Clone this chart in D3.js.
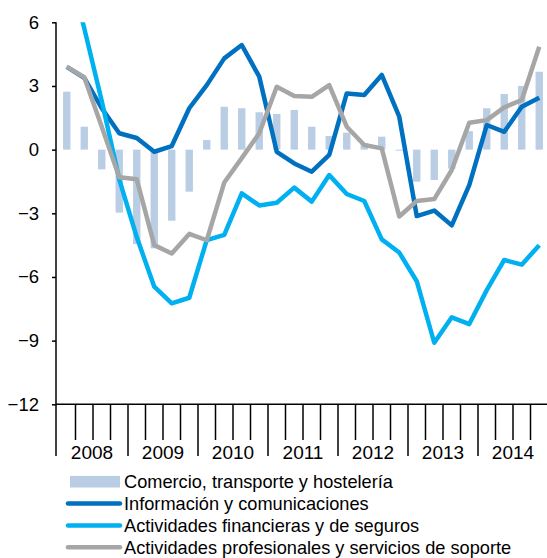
<!DOCTYPE html>
<html>
<head>
<meta charset="utf-8">
<script src="https://cdn.jsdelivr.net/npm/d3@7/dist/d3.min.js"></script>
<style>
  body { margin: 0; background: #fff; }
  svg { display: block; font-family: "Liberation Sans", Arial, sans-serif; }
</style>
</head>
<body>
<svg id="chart" width="547" height="558"></svg>
<script>
// data, quarterly 2008T1 .. 2014T4
const years = ["2008", "2009", "2010", "2011", "2012", "2013", "2014"];
const quarters = years.flatMap(y => ["T1", "T2", "T3", "T4"].map(q => y + q));
const yTicks = [-12, -9, -6, -3, 0, 3, 6];

const comercio = [2.73, 1.08, -0.93, -2.97, -4.45, -4.65, -3.35, -1.98,
  0.45, 2.02, 1.95, 1.76, 1.68, 1.87, 1.08, 0.64,
  0.8, 0.3, 0.61, -0.05, -1.51, -1.43, -0.9, 0.87,
  1.95, 2.62, 3.0, 3.67];
const informacion = [3.9, 3.38, 1.95, 0.77, 0.55, -0.1, 0.17, 1.95,
  3.04, 4.3, 4.93, 3.44, -0.1, -0.65, -1.04, -0.25,
  2.65, 2.57, 3.52, 1.55, -3.13, -2.87, -3.57, -1.67,
  1.16, 0.84, 2.02, 2.45];
const financieras = [8.9, 5.72, 2.29, -1.4, -4.12, -6.46, -7.24, -6.98,
  -4.26, -4.02, -2.06, -2.63, -2.5, -1.79, -2.45, -1.2,
  -2.09, -2.42, -4.23, -4.85, -6.2, -9.1, -7.9, -8.22,
  -6.62, -5.2, -5.42, -4.5];
const profesionales = [3.91, 3.41, 1.08, -1.3, -1.4, -4.5, -4.89, -3.97,
  -4.27, -1.55, -0.4, 0.77, 2.96, 2.53, 2.49, 3.04,
  1.08, 0.22, 0.06, -3.15, -2.42, -2.33, -0.96, 1.27,
  1.39, 1.99, 2.34, 4.85];

const seriesNames = [
  "Comercio, transporte y hostelería",
  "Información y comunicaciones",
  "Actividades financieras y de seguros",
  "Actividades profesionales y servicios de soporte"
];
const colors = ["#b9cde5", "#0070c0", "#00b0f0", "#a6a6a6"];

const svg = d3.select("#chart");
const axisX = 56, plotTop = 22.3, plotBottom = 404.3;

const y = d3.scaleLinear().domain([-12, 6]).range([plotBottom, plotTop]);
const x = d3.scaleBand().domain(quarters).range([58, 548])
  .paddingInner(0.58).paddingOuter(0.29);
const xb = d3.scaleLinear().domain([0, quarters.length]).range([58, 548]);
const cx = q => x(q) + x.bandwidth() / 2;

svg.append("defs").append("clipPath").attr("id", "plot")
  .append("rect").attr("x", axisX).attr("y", plotTop)
  .attr("width", 547 - axisX).attr("height", plotBottom - plotTop);

// bars
svg.append("g").selectAll("rect")
  .data(comercio)
  .join("rect")
  .attr("x", (d, i) => x(quarters[i]))
  .attr("width", x.bandwidth())
  .attr("y", d => y(Math.max(0, d)))
  .attr("height", d => Math.abs(y(d) - y(0)))
  .attr("fill", colors[0]);

// lines
const line = d3.line()
  .x((d, i) => cx(quarters[i]))
  .y(d => y(d));

const lines = svg.append("g").attr("clip-path", "url(#plot)");
[informacion, financieras, profesionales].forEach((s, k) => {
  lines.append("path")
    .datum(s)
    .attr("d", line)
    .attr("fill", "none")
    .attr("stroke", colors[k + 1])
    .attr("stroke-width", 4.5)
    .attr("stroke-linejoin", "round");
});

// y axis
const yAxis = svg.append("g")
  .attr("transform", "translate(" + axisX + ",0)")
  .call(d3.axisLeft(y).tickValues(yTicks).tickSize(4).tickSizeOuter(0).tickPadding(13));
yAxis.select(".domain").remove();
yAxis.selectAll("line").attr("stroke", "#000").attr("stroke-width", 1.5);
yAxis.selectAll("text").attr("font-size", 18.5).attr("fill", "#000")
  .attr("font-family", "Liberation Sans, Arial, sans-serif");
svg.append("line")
  .attr("x1", axisX).attr("x2", axisX)
  .attr("y1", plotTop).attr("y2", 456)
  .attr("stroke", "#000").attr("stroke-width", 1.5);

// x axis: quarter ticks, year separators
svg.append("line")
  .attr("x1", axisX).attr("x2", 547)
  .attr("y1", plotBottom).attr("y2", plotBottom)
  .attr("stroke", "#000").attr("stroke-width", 1.5);
const bounds = d3.range(1, quarters.length + 1);
svg.append("g").selectAll("line")
  .data(bounds)
  .join("line")
  .attr("x1", d => xb(d)).attr("x2", d => xb(d))
  .attr("y1", plotBottom)
  .attr("y2", d => d % 4 === 0 ? 456 : 440)
  .attr("stroke", "#000").attr("stroke-width", 1.5);

svg.append("g").selectAll("text")
  .data(years)
  .join("text")
  .attr("x", (d, i) => (xb(i * 4) + xb(i * 4 + 4)) / 2 + (i === 0 ? -1 : 0))
  .attr("y", 459)
  .attr("text-anchor", "middle")
  .attr("font-size", 19)
  .text(d => d);

// legend
const legend = svg.append("g");
const rowY = [481.7, 503.5, 525.5, 547.3];
legend.append("rect")
  .attr("x", 70).attr("y", rowY[0] - 5.8)
  .attr("width", 50).attr("height", 11.6)
  .attr("fill", colors[0]);
[1, 2, 3].forEach(k => {
  legend.append("line")
    .attr("x1", 68).attr("x2", 120)
    .attr("y1", rowY[k]).attr("y2", rowY[k])
    .attr("stroke", colors[k]).attr("stroke-width", 4.5)
    .attr("stroke-linecap", "round");
});
legend.selectAll("text")
  .data(seriesNames)
  .join("text")
  .attr("x", 124)
  .attr("y", (d, i) => rowY[i])
  .attr("dy", "0.35em")
  .attr("font-size", 18.2)
  .text(d => d);
</script>
</body>
</html>
